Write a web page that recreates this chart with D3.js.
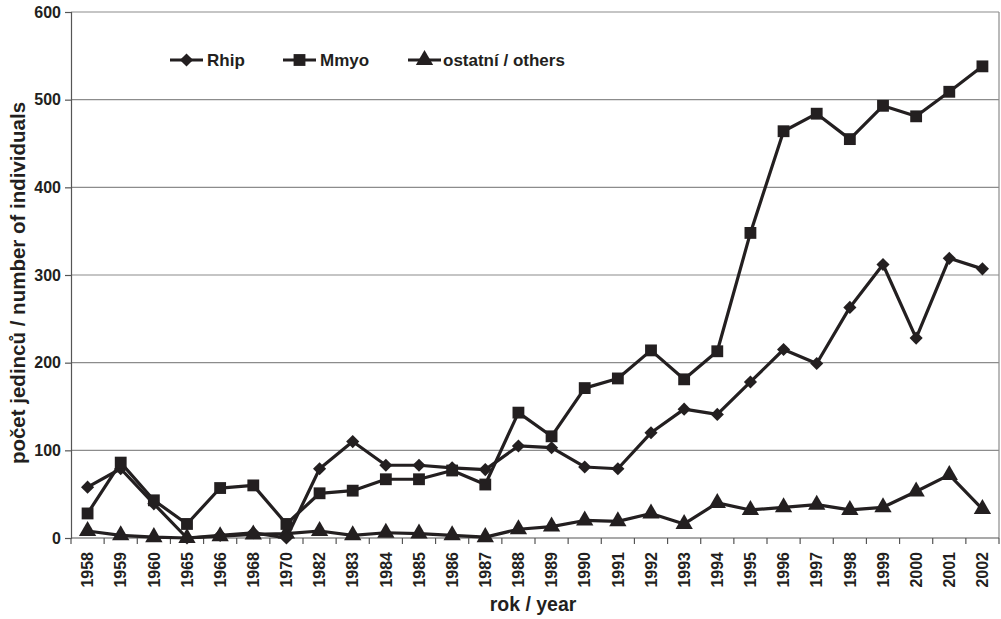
<!DOCTYPE html>
<html>
<head>
<meta charset="utf-8">
<script src="https://cdn.jsdelivr.net/npm/d3@7"></script>
<style>
  html, body { margin: 0; padding: 0; background: #fff; }
  svg { display: block; font-family: "Liberation Sans", Arial, sans-serif; }
</style>
</head>
<body>
<svg id="chart" width="1001" height="619"></svg>
<script>
// Survey years (category axis)
const years = ["1958","1959","1960","1965","1966","1968","1970","1982","1983","1984","1985","1986","1987","1988","1989","1990","1991","1992","1993","1994","1995","1996","1997","1998","1999","2000","2001","2002"];

// Counted individuals per year
const rhip   = [58, 79, 39, 0, 3, 6, 0, 79, 110, 83, 83, 80, 78, 105, 103, 81, 79, 120, 147, 141, 178, 215, 199, 263, 312, 228, 319, 307];
const mmyo   = [28, 86, 43, 16, 57, 60, 16, 51, 54, 67, 67, 77, 61, 143, 116, 171, 182, 214, 181, 213, 348, 464, 484, 455, 493, 481, 509, 538];
const others = [8, 3, 1, 0, 2, 4, 5, 8, 3, 6, 5, 3, 1, 10, 13, 20, 19, 28, 16, 40, 32, 35, 38, 32, 35, 53, 72, 33];

const yTicks = [0, 100, 200, 300, 400, 500, 600];
const seriesNames = ["Rhip", "Mmyo", "ostatní / others"];

const svg = d3.select("#chart");
const margin = { left: 71, right: 2, top: 12, bottom: 81 };
const W = 1001, H = 619;
const ink = "#231f20";

const x = d3.scaleBand().domain(years).range([margin.left, W - margin.right]).padding(0);
const y = d3.scaleLinear().domain([0, 600]).range([H - margin.bottom, margin.top]);
const cx = d => x(d) + x.bandwidth() / 2;

// Horizontal gridlines
svg.append("g").selectAll("line").data(yTicks.filter(v => v > 0)).join("line")
  .attr("x1", margin.left).attr("x2", W - margin.right)
  .attr("y1", d => y(d)).attr("y2", d => y(d))
  .attr("stroke", "#8c8c8c").attr("stroke-width", 1.2);

// Right border of plot area
svg.append("line")
  .attr("x1", W - margin.right).attr("x2", W - margin.right)
  .attr("y1", y(600)).attr("y2", y(0))
  .attr("stroke", "#8c8c8c").attr("stroke-width", 1.2);

// Y axis
const yAxis = svg.append("g").attr("transform", `translate(${margin.left},0)`)
  .call(d3.axisLeft(y).tickValues(yTicks).tickSize(6).tickPadding(4).tickFormat(d3.format("d")));
yAxis.select(".domain").attr("stroke", "#555").attr("stroke-width", 1.2);
yAxis.selectAll(".tick line").attr("stroke", "#555").attr("stroke-width", 1.2);
yAxis.selectAll("text").attr("font-size", 16).attr("font-weight", "bold").attr("fill", ink)
  .attr("font-family", "Liberation Sans, Arial, sans-serif");

// X axis: ticks at category boundaries
const xg = svg.append("g");
xg.append("line")
  .attr("x1", margin.left).attr("x2", W - margin.right)
  .attr("y1", y(0)).attr("y2", y(0))
  .attr("stroke", "#555").attr("stroke-width", 1.2);
xg.selectAll("line.tk").data(d3.range(years.length + 1)).join("line").attr("class", "tk")
  .attr("x1", i => margin.left + i * x.bandwidth()).attr("x2", i => margin.left + i * x.bandwidth())
  .attr("y1", y(0)).attr("y2", y(0) + 6)
  .attr("stroke", "#555").attr("stroke-width", 1.2);
xg.selectAll("text").data(years).join("text")
  .attr("transform", d => `translate(${cx(d) + 5.7},${y(0) + 14}) rotate(-90)`)
  .attr("text-anchor", "end")
  .attr("font-size", 16).attr("font-weight", "bold").attr("fill", ink)
  .text(d => d);

// Axis titles
svg.append("text")
  .attr("transform", `translate(25,283) rotate(-90)`)
  .attr("text-anchor", "middle")
  .attr("font-size", 20.5).attr("font-weight", "bold").attr("fill", ink)
  .text("počet jedinců / number of individuals");
svg.append("text")
  .attr("x", 533).attr("y", 611)
  .attr("text-anchor", "middle")
  .attr("font-size", 19.5).attr("font-weight", "bold").attr("fill", ink)
  .text("rok / year");

// Marker symbols
const sym = {
  Rhip: d3.symbol().type(d3.symbolDiamond2).size(110),
  Mmyo: d3.symbol().type(d3.symbolSquare).size(140),
  others: d3.symbol().type(d3.symbolTriangle).size(130)
};
const series = [
  { name: seriesNames[0], values: rhip, symbol: sym.Rhip },
  { name: seriesNames[1], values: mmyo, symbol: sym.Mmyo },
  { name: seriesNames[2], values: others, symbol: sym.others }
];

const line = d3.line().x((d, i) => cx(years[i])).y(d => y(d));

// Draw lines then markers (others first so the main series sit on top)
[series[2], series[0], series[1]].forEach(s => {
  svg.append("path").datum(s.values)
    .attr("d", line).attr("fill", "none")
    .attr("stroke", ink).attr("stroke-width", 3.2).attr("stroke-linejoin", "round");
  svg.append("g").selectAll("path").data(s.values).join("path")
    .attr("transform", (d, i) => `translate(${cx(years[i])},${y(d)})`)
    .attr("d", s.symbol).attr("fill", ink);
});

// Legend
const legendItems = [
  { x: 170, label: seriesNames[0], symbol: sym.Rhip, tx: 207 },
  { x: 283, label: seriesNames[1], symbol: sym.Mmyo, tx: 320 },
  { x: 408, label: seriesNames[2], symbol: sym.others, tx: 443 }
];
const lg = svg.append("g");
legendItems.forEach(it => {
  lg.append("line").attr("x1", it.x).attr("x2", it.x + 33).attr("y1", 60).attr("y2", 60)
    .attr("stroke", ink).attr("stroke-width", 3.2);
  lg.append("path").attr("transform", `translate(${it.x + 16.5},60)`)
    .attr("d", it.symbol).attr("fill", ink);
  lg.append("text").attr("x", it.tx).attr("y", 66)
    .attr("font-size", 17).attr("font-weight", "bold").attr("fill", ink)
    .text(it.label);
});
</script>
</body>
</html>
